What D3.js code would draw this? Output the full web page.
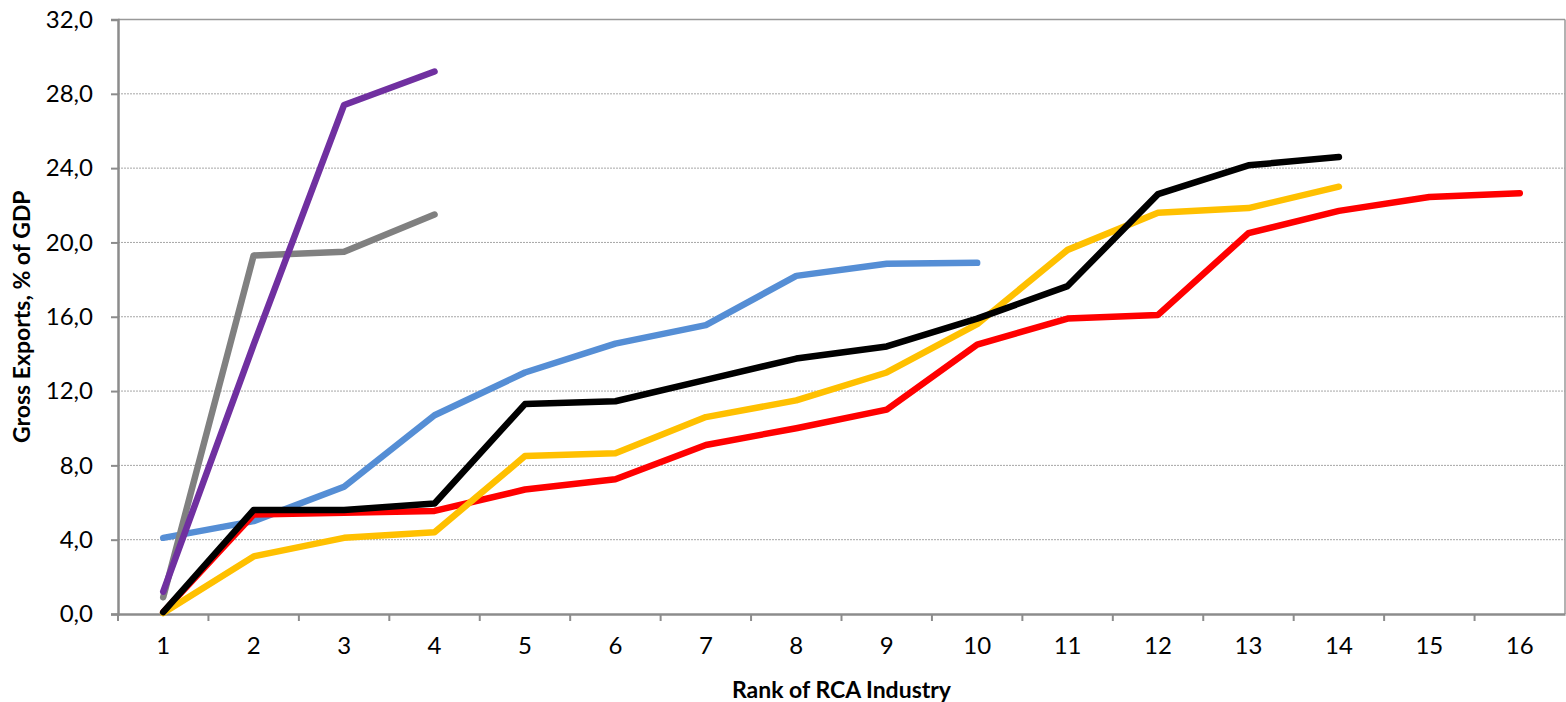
<!DOCTYPE html>
<html>
<head>
<meta charset="utf-8">
<script src="https://cdn.jsdelivr.net/npm/d3@7"></script>
<style>
  body { margin: 0; background: #fff; }
  text { font-family: Lato, "Open Sans", sans-serif; }
</style>
</head>
<body>
<div id="chart"></div>
<script>
// data
var ranks = ["1","2","3","4","5","6","7","8","9","10","11","12","13","14","15","16"];
var yTicks = [0, 4, 8, 12, 16, 20, 24, 28, 32];

var blueVals   = [4.1, 5.0, 6.85, 10.7, 13.0, 14.55, 15.55, 18.2, 18.85, 18.9];
var redVals    = [0.1, 5.35, 5.45, 5.55, 6.7, 7.25, 9.1, 10.0, 11.0, 14.5, 15.9, 16.1, 20.5, 21.7, 22.45, 22.65];
var yellowVals = [0.05, 3.1, 4.1, 4.4, 8.5, 8.65, 10.6, 11.5, 13.0, 15.6, 19.6, 21.6, 21.85, 23.0];
var blackVals  = [0.1, 5.6, 5.6, 5.95, 11.3, 11.45, 12.6, 13.75, 14.4, 15.9, 17.65, 22.6, 24.15, 24.6];
var grayVals   = [0.9, 19.3, 19.5, 21.5];
var purpleVals = [1.2, 14.5, 27.4, 29.2];

var series = [
    {vals: blueVals, color: "#558ED5"},
    {vals: redVals, color: "#FF0000"},
    {vals: yellowVals, color: "#FFC000"},
    {vals: blackVals, color: "#000000"},
    {vals: grayVals, color: "#808080"},
    {vals: purpleVals, color: "#7030A0"}
];

// set parameters
var svgWidth = 1566;
var svgHeight = 702;
var margin = {top: 19.5, right: 1, bottom: 88, left: 118};
var width = svgWidth - margin.left - margin.right;
var height = svgHeight - margin.top - margin.bottom;

var svg = d3.select("#chart")
    .append("svg")
    .attr("width", svgWidth)
    .attr("height", svgHeight);

var chartGroup = svg.append("g")
    .attr("transform", `translate(${margin.left}, ${margin.top})`);

// scales
var xScale = d3.scaleBand()
    .domain(ranks)
    .range([0, width]);

var yScale = d3.scaleLinear()
    .domain([0, 32])
    .range([height, 0]);

// gridlines
chartGroup.selectAll(".grid")
    .data(yTicks.filter(d => d > 0 && d < 32))
    .enter()
    .append("line")
    .attr("x1", 0)
    .attr("x2", width)
    .attr("y1", d => yScale(d))
    .attr("y2", d => yScale(d))
    .attr("stroke", "#a6a6a6")
    .attr("stroke-width", 1)
    .attr("stroke-dasharray", "2,1");

// plot border top/right
chartGroup.append("line")
    .attr("x1", 0).attr("x2", width)
    .attr("y1", 0).attr("y2", 0)
    .attr("stroke", "#999").attr("stroke-width", 1.5);
chartGroup.append("line")
    .attr("x1", width).attr("x2", width)
    .attr("y1", 0).attr("y2", height)
    .attr("stroke", "#999").attr("stroke-width", 1.5);

// axes
var leftAxis = d3.axisLeft(yScale)
    .tickValues(yTicks)
    .tickSize(7)
    .tickPadding(18)
    .tickFormat(d => d3.format(".1f")(d).replace(".", ","));

var yAxisG = chartGroup.append("g").call(leftAxis);
yAxisG.select(".domain").attr("stroke", "#8c8c8c").attr("stroke-width", 2.5);
yAxisG.selectAll(".tick line").attr("stroke", "#8c8c8c").attr("stroke-width", 2);
yAxisG.selectAll("text").attr("font-size", 24).attr("fill", "#000");

var bottomAxis = d3.axisBottom(xScale).tickSize(0).tickPadding(23);
var xAxisG = chartGroup.append("g")
    .attr("transform", `translate(0, ${height})`)
    .call(bottomAxis);
xAxisG.select(".domain").attr("stroke", "#8c8c8c").attr("stroke-width", 2.5);
xAxisG.selectAll("text").attr("font-size", 24).attr("fill", "#000");

// ticks between categories
xAxisG.selectAll(".sep")
    .data(ranks)
    .enter()
    .append("line")
    .attr("x1", d => xScale(d))
    .attr("x2", d => xScale(d))
    .attr("y1", 0)
    .attr("y2", 7)
    .attr("stroke", "#8c8c8c")
    .attr("stroke-width", 2);

// lines
var line = d3.line()
    .x((d, i) => xScale(ranks[i]) + xScale.bandwidth() / 2)
    .y(d => yScale(d));

chartGroup.selectAll(".series")
    .data(series)
    .enter()
    .append("path")
    .attr("d", d => line(d.vals))
    .attr("fill", "none")
    .attr("stroke", d => d.color)
    .attr("stroke-width", 6.5)
    .attr("stroke-linejoin", "round")
    .attr("stroke-linecap", "round");

// axes labels
svg.append("text")
    .attr("x", margin.left + width / 2)
    .attr("y", 698)
    .attr("text-anchor", "middle")
    .attr("font-size", 23)
    .attr("font-weight", "bold")
    .text("Rank of RCA Industry");

svg.append("text")
    .attr("transform", `translate(30, ${margin.top + height / 2}) rotate(-90)`)
    .attr("text-anchor", "middle")
    .attr("font-size", 23)
    .attr("font-weight", "bold")
    .text("Gross Exports, % of GDP");
</script>
</body>
</html>
